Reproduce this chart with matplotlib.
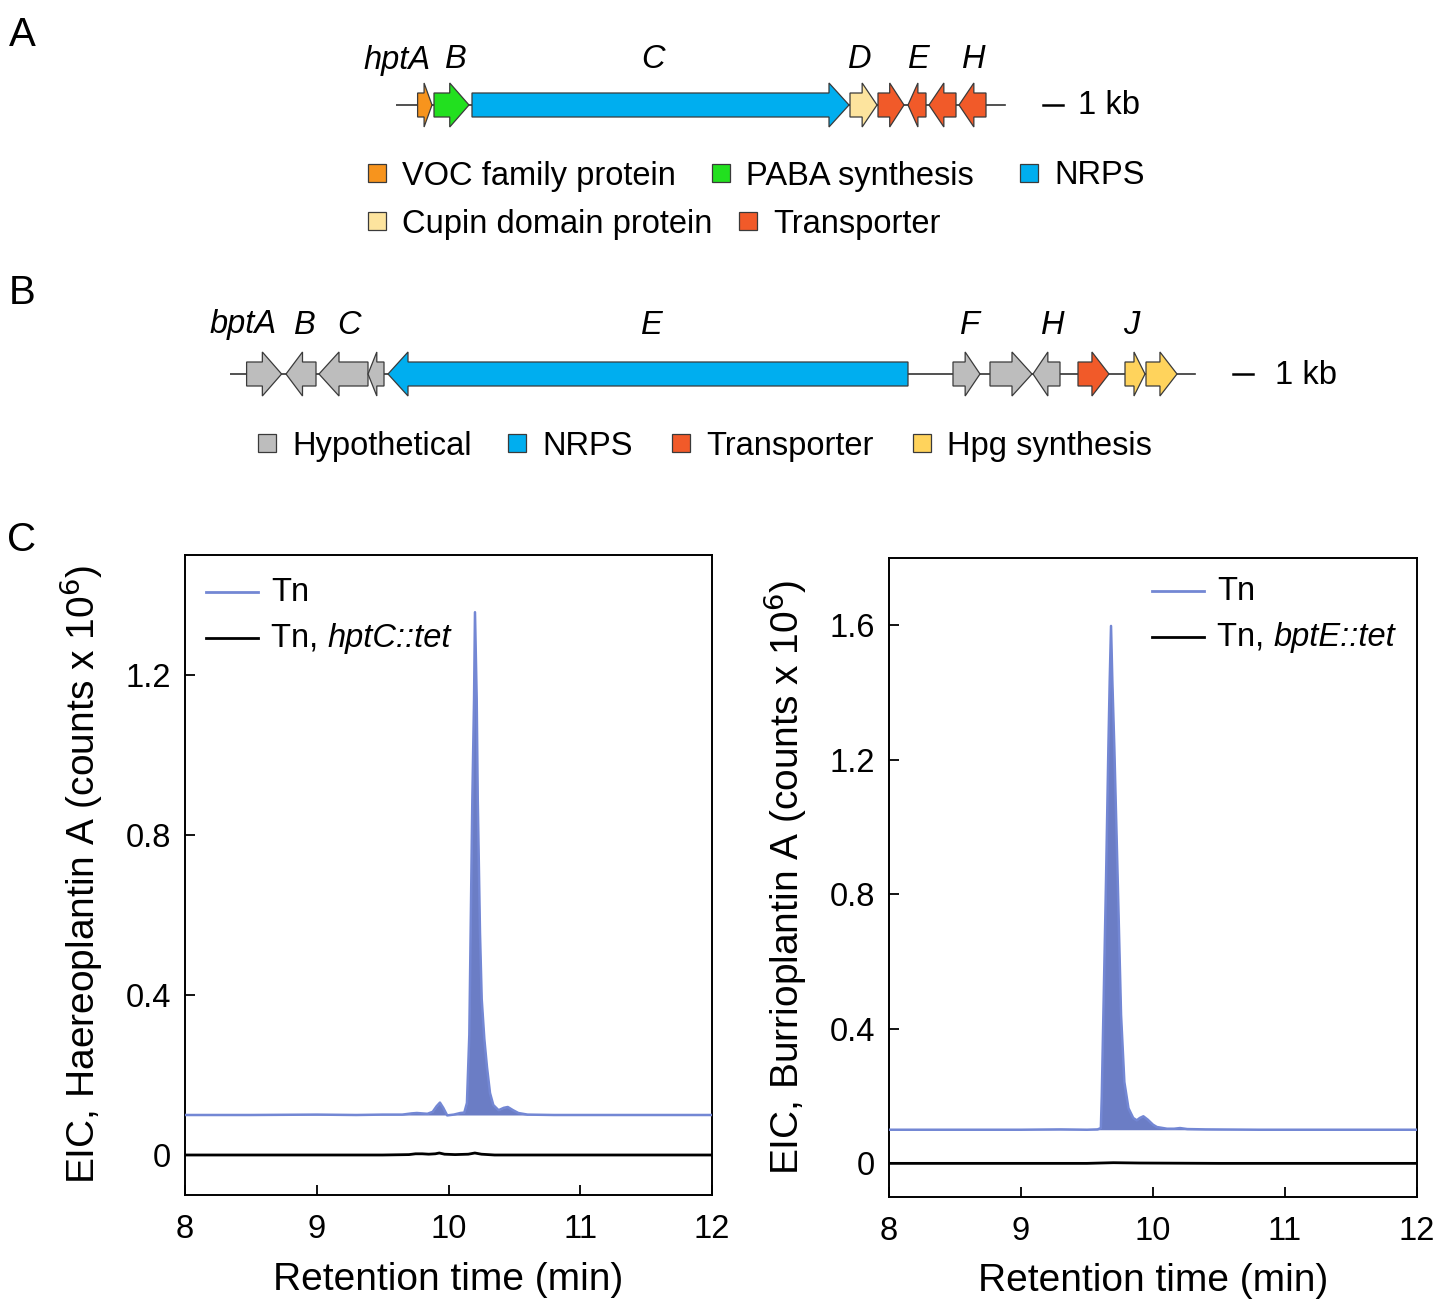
import numpy as np
import matplotlib
matplotlib.use('Agg')
import matplotlib.pyplot as plt
from matplotlib.patches import Polygon, Rectangle

plt.rcParams['font.family'] = ['Liberation Sans', 'DejaVu Sans']

W, H = 1446, 1315

# ---- gene clusters (kb from left end of drawn line) ----
genes_a_start = [1.08, 1.90, 3.80, 22.70, 24.10, 25.60, 26.65, 28.15]
genes_a_end = [1.80, 3.65, 22.65, 24.05, 25.40, 26.50, 28.00, 29.50]
genes_a_strand = [1, 1, 1, 1, 1, -1, -1, -1]
genes_a_type = ['voc', 'paba', 'nrps', 'cupin', 'trans', 'trans', 'trans', 'trans']
cluster_a_len = 30.45
labels_a = ['hptA', 'B', 'C', 'D', 'E', 'H']
labels_a_x = [0.05, 3.0, 12.85, 23.2, 26.15, 28.9]

genes_b_start = [0.83, 2.80, 4.45, 6.90, 7.90, 36.15, 38.00, 40.15, 42.40, 44.75, 45.80]
genes_b_end = [2.58, 4.30, 6.90, 7.70, 33.90, 37.50, 40.10, 41.50, 43.95, 45.75, 47.35]
genes_b_strand = [1, -1, -1, -1, -1, 1, 1, -1, 1, 1, 1]
genes_b_type = ['hyp', 'hyp', 'hyp', 'hyp', 'nrps', 'hyp', 'hyp', 'hyp', 'trans', 'hpg', 'hpg']
cluster_b_len = 48.25
labels_b = ['bptA', 'B', 'C', 'E', 'F', 'H', 'J']
labels_b_x = [0.65, 3.75, 5.95, 21.1, 37.0, 41.15, 45.05]

colors = {'voc': '#f7941d', 'paba': '#22e01f', 'nrps': '#00aeef',
          'cupin': '#fde49e', 'trans': '#f15a29', 'hyp': '#bdbdbd',
          'hpg': '#ffd35c'}

legend_a = [('voc', 'VOC family protein'), ('paba', 'PABA synthesis'),
            ('nrps', 'NRPS'), ('cupin', 'Cupin domain protein'),
            ('trans', 'Transporter')]
legend_b = [('hyp', 'Hypothetical'), ('nrps', 'NRPS'),
            ('trans', 'Transporter'), ('hpg', 'Hpg synthesis')]

# ---- EIC traces ----
t_tn_hpt = [8.0, 8.5, 9.0, 9.3, 9.5, 9.65, 9.72, 9.76, 9.8, 9.84, 9.88,
            9.91, 9.935, 9.96, 9.99, 10.04, 10.09, 10.12, 10.14, 10.158,
            10.168, 10.181, 10.194, 10.201, 10.214, 10.222, 10.239, 10.252,
            10.272, 10.292, 10.315, 10.34, 10.38, 10.42, 10.45, 10.49,
            10.53, 10.6, 10.8, 11.0, 11.5, 12.0]
y_tn_hpt = [0.100, 0.100, 0.101, 0.100, 0.101, 0.101, 0.104, 0.105, 0.104,
            0.103, 0.108, 0.122, 0.131, 0.118, 0.099, 0.101, 0.105, 0.106,
            0.130, 0.300, 0.555, 0.890, 1.140, 1.357, 1.140, 0.890, 0.555,
            0.390, 0.290, 0.220, 0.155, 0.125, 0.112, 0.118, 0.120, 0.112,
            0.105, 0.101, 0.100, 0.100, 0.100, 0.100]
t_ko_hpt = [8.0, 8.5, 9.0, 9.5, 9.7, 9.75, 9.8, 9.85, 9.9, 9.93, 9.97,
            10.05, 10.15, 10.2, 10.25, 10.35, 10.6, 11.0, 11.5, 12.0]
y_ko_hpt = [0.0, 0.0, 0.0, 0.0, 0.001, 0.003, 0.003, 0.002, 0.003, 0.005,
            0.002, 0.001, 0.002, 0.005, 0.002, 0.0, 0.0, 0.0, 0.0, 0.0]

t_tn_bpt = [8.0, 8.5, 9.0, 9.3, 9.5, 9.58, 9.605, 9.612, 9.624, 9.644,
            9.662, 9.672, 9.682, 9.692, 9.707, 9.733, 9.758, 9.783, 9.814,
            9.85, 9.877, 9.9, 9.927, 9.96, 10.0, 10.03, 10.106, 10.16,
            10.205, 10.26, 10.4, 10.8, 11.0, 11.5, 12.0]
y_tn_bpt = [0.100, 0.100, 0.100, 0.101, 0.100, 0.101, 0.105, 0.200, 0.441,
            0.838, 1.236, 1.434, 1.598, 1.434, 1.236, 0.838, 0.441, 0.242,
            0.164, 0.135, 0.128, 0.135, 0.140, 0.130, 0.115, 0.108, 0.103,
            0.103, 0.105, 0.102, 0.101, 0.100, 0.100, 0.100, 0.100]
t_ko_bpt = [8.0, 8.5, 9.0, 9.5, 9.7, 9.9, 10.5, 11.0, 12.0]
y_ko_bpt = [0.0, 0.0, 0.0, 0.0, 0.002, 0.001, 0.0, 0.0, 0.0]
tn_offset = 0.1

LINE_TN = '#7387d4'
FILL_TN = '#6b7dc5'
EDGE = '#3a3a3a'
FS = 23.5


def px_axes(fig, x0, y0, x1, y1):
    return fig.add_axes([x0 / W, 1 - y1 / H, (x1 - x0) / W, (y1 - y0) / H])


def draw_cluster(ax, starts, ends, strands, types, total, labels, label_x, label_dy):
    ax.plot([0, total], [0, 0], color='#333333', lw=1.2, zorder=1)
    for s, e, d, k in zip(starts, ends, strands, types):
        ln = e - s
        head = min(1.0, 0.55 * ln)
        if d > 0:
            pts = [(s, -12), (e - head, -12), (e - head, -22), (e, 0),
                   (e - head, 22), (e - head, 12), (s, 12)]
        else:
            pts = [(e, -12), (s + head, -12), (s + head, -22), (s, 0),
                   (s + head, 22), (s + head, 12), (e, 12)]
        ax.add_patch(Polygon(pts, closed=True, facecolor=colors[k],
                             edgecolor=EDGE, lw=0.9, zorder=2))
    for lab, x in zip(labels, label_x):
        ax.text(x, label_dy, lab, ha='center', va='center', style='italic',
                fontsize=FS)


def draw_legend(fig, items, xs_sq, y):
    for (k, lab), xs in zip(items, xs_sq):
        fig.patches.append(Rectangle(((xs - 9) / W, 1 - (y + 9) / H), 18 / W, 18 / H,
                                     transform=fig.transFigure,
                                     facecolor=colors[k], edgecolor=EDGE, lw=0.9))
        fig.text((xs + 25) / W, 1 - (y + 3) / H, lab, ha='left', va='center',
                 fontsize=FS)


fig = plt.figure(figsize=(W / 100, H / 100), dpi=100)

# panel letters
for letter, yy in zip(['A', 'B', 'C'], [35, 293, 540]):
    fig.text(22 / W, 1 - yy / H, letter, ha='center', va='center', fontsize=29)

# ---- panel A ----
axA = px_axes(fig, 396, 30, 1196, 145)
axA.set_xlim(0, 40)
axA.set_ylim(-40, 75)
axA.axis('off')
draw_cluster(axA, genes_a_start, genes_a_end, genes_a_strand, genes_a_type,
             cluster_a_len, labels_a, labels_a_x, 45)
axA.plot([32.35, 33.35], [0, 0], color='black', lw=1.8)
axA.text(34.1, -1, '1 kb', ha='left', va='center', fontsize=FS)
draw_legend(fig, legend_a[:3], [377, 721, 1029], 173)
draw_legend(fig, legend_a[3:], [377, 748], 221)

# ---- panel B ----
axB = px_axes(fig, 230, 298, 1330, 413)
axB.set_xlim(0, 55)
axB.set_ylim(-39, 76)
axB.axis('off')
draw_cluster(axB, genes_b_start, genes_b_end, genes_b_strand, genes_b_type,
             cluster_b_len, labels_b, labels_b_x, 49)
axB.plot([50.15, 51.15], [0, 0], color='black', lw=1.8)
axB.text(52.25, -1, '1 kb', ha='left', va='center', fontsize=FS)
draw_legend(fig, legend_b, [267, 517, 681, 922], 443)


# ---- panel C ----
def eic_panel(ax, t_tn, y_tn, t_ko, y_ko, ylim, yticks, ylabel, mutant, leg_x, leg_y):
    ax.fill_between(t_tn, tn_offset, y_tn, color=FILL_TN, lw=0, zorder=2)
    ax.plot(t_tn, y_tn, color=LINE_TN, lw=1.8, zorder=3)
    ax.plot(t_ko, y_ko, color='black', lw=2.0, zorder=3)
    ax.set_xlim(8, 12)
    ax.set_ylim(*ylim)
    ax.set_xticks([8, 9, 10, 11, 12])
    ax.set_yticks(yticks)
    ax.set_yticklabels(['0' if v == 0 else f'{v:.1f}' for v in yticks])
    ax.tick_params(direction='in', length=7, width=1.3, labelsize=FS)
    ax.tick_params(axis='x', pad=14)
    ax.tick_params(axis='y', pad=10)
    for sp in ax.spines.values():
        sp.set_linewidth(1.4)
    ax.set_xlabel('Retention time (min)', fontsize=28)
    ax.xaxis.set_label_coords(0.5, -0.104)
    ax.set_ylabel(ylabel, fontsize=28)
    ax.yaxis.set_label_coords(-0.152, 0.5)
    x0, x1, xt = leg_x
    y1, y2 = leg_y
    for yy, c in zip([y1, y2], [LINE_TN, 'black']):
        ax.plot([x0, x1], [yy, yy], color=c, lw=2.0, transform=ax.transAxes)
    ax.text(xt, y1, 'Tn', ha='left', va='center', fontsize=FS,
            transform=ax.transAxes)
    t2 = ax.text(xt, y2, 'Tn, ', ha='left', va='center', fontsize=FS,
                 transform=ax.transAxes)
    ax.annotate(mutant, xy=(1, 0), xycoords=t2, ha='left', va='bottom',
                fontsize=FS, style='italic')


axL = px_axes(fig, 185, 555, 712, 1195)
eic_panel(axL, t_tn_hpt, y_tn_hpt, t_ko_hpt, y_ko_hpt, (-0.1, 1.5),
          [0, 0.4, 0.8, 1.2],
          r'EIC, Haereoplantin A (counts x 10$^{6}$)', 'hptC::tet',
          (0.040, 0.139, 0.163), (0.942, 0.870))

axR = px_axes(fig, 889, 558, 1417, 1197)
eic_panel(axR, t_tn_bpt, y_tn_bpt, t_ko_bpt, y_ko_bpt, (-0.1, 1.8),
          [0, 0.4, 0.8, 1.2, 1.6],
          r'EIC, Burrioplantin A (counts x 10$^{6}$)', 'bptE::tet',
          (0.498, 0.597, 0.621), (0.948, 0.876))

fig.savefig('out.png', dpi=100)
